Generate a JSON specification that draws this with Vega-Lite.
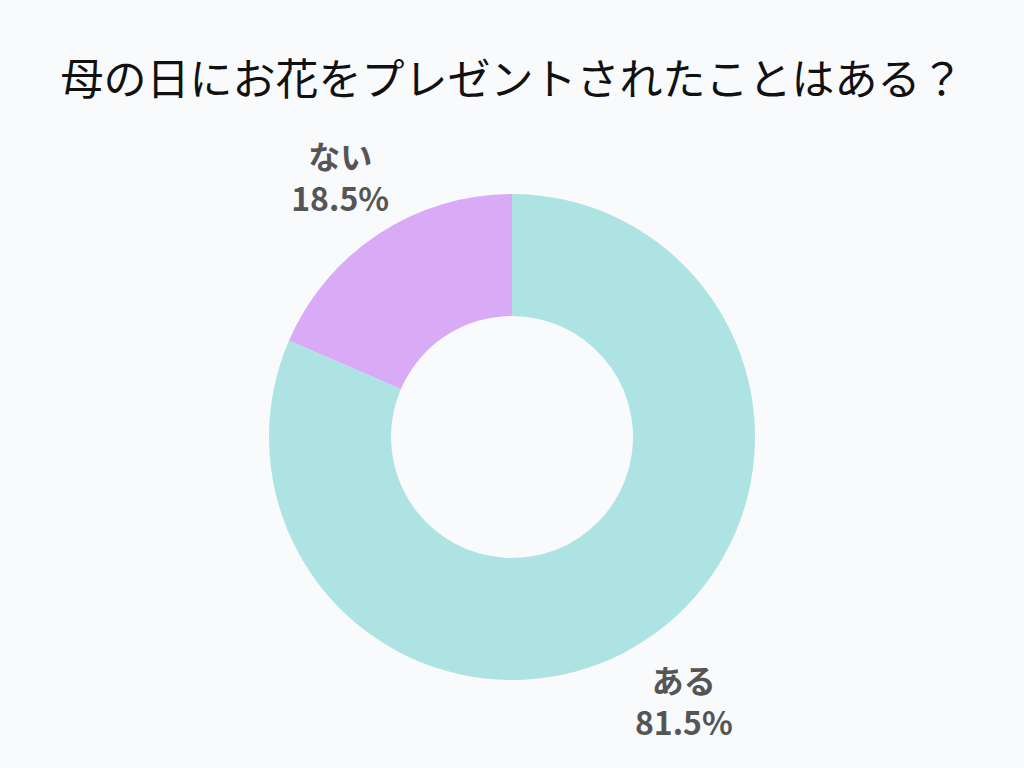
{
  "$schema": "https://vega.github.io/schema/vega-lite/v6.json",
  "autosize": {"type": "fit", "contains": "padding"},
  "width": 1024,
  "height": 768,
  "padding": {"top": 61, "bottom": 0, "left": 0, "right": 0},
  "background": "#f9fafc",
  "title": {
    "text": "母の日にお花をプレゼントされたことはある？",
    "font": "Noto Sans CJK JP",
    "fontSize": 43,
    "fontWeight": "normal",
    "color": "#111111",
    "anchor": "middle",
    "offset": 2
  },
  "data": {
    "values": [
      {"answer": "ある", "value": 81.5, "idx": 1, "label": "ある\n81.5%"},
      {"answer": "ない", "value": 18.5, "idx": 2, "label": "ない\n18.5%"}
    ]
  },
  "encoding": {
    "theta": {"field": "value", "type": "quantitative", "stack": true},
    "order": {"field": "idx", "type": "quantitative"},
    "color": {
      "field": "answer",
      "type": "nominal",
      "scale": {"domain": ["ある", "ない"], "range": ["#ade3e3", "#d9abf6"]},
      "legend": null
    }
  },
  "layer": [
    {"mark": {"type": "arc", "outerRadius": 243, "innerRadius": 121}},
    {
      "mark": {
        "type": "text",
        "radius": 313,
        "font": "Noto Sans CJK JP",
        "fontSize": 32,
        "fontWeight": "bold",
        "color": "#555555",
        "lineBreak": "\n",
        "lineHeight": 42,
        "align": "center",
        "baseline": "middle",
        "dy": -16
      },
      "encoding": {
        "text": {"field": "label", "type": "nominal"},
        "color": {"value": "#555555"}
      }
    }
  ],
  "config": {"view": {"stroke": null}}
}
